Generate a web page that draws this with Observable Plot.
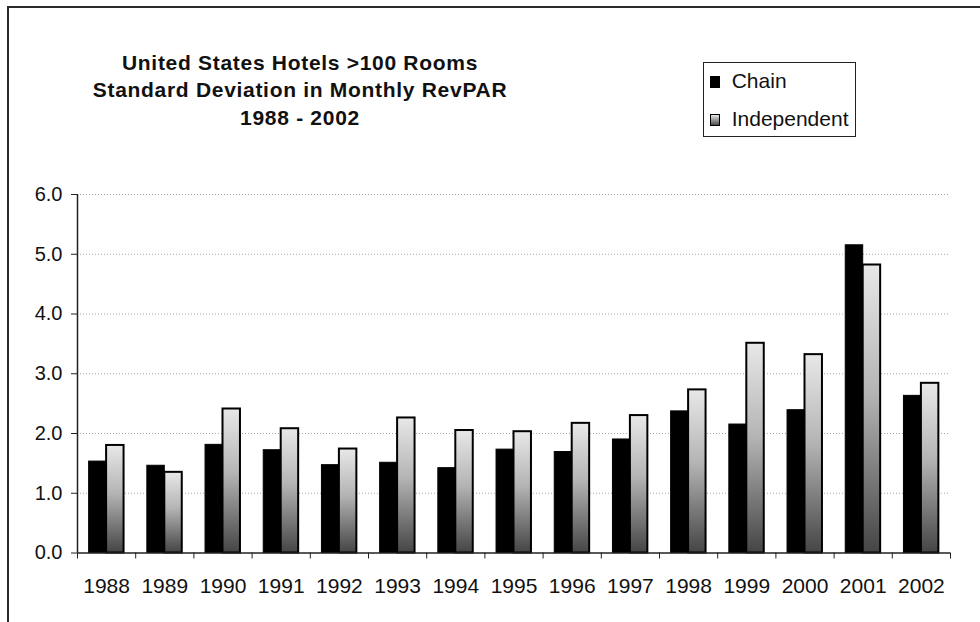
<!DOCTYPE html>
<html>
<head>
<meta charset="utf-8">
<script src="https://cdn.jsdelivr.net/npm/d3@7"></script>
<script src="https://cdn.jsdelivr.net/npm/@observablehq/plot@0.6"></script>
<style>
  html, body { margin: 0; padding: 0; background: #fff; overflow: hidden; }
  #wrap { position: relative; width: 980px; height: 622px; font-family: "Liberation Sans", Arial, sans-serif; color: #111; }
  #frame { position: absolute; left: 7px; top: 6px; width: 990px; height: 640px;
           border-left: 2px solid #2a2a2a; border-top: 2px solid #2a2a2a; }
  #title { position: absolute; left: 50px; width: 500px; top: 48.6px; text-align: center;
           font-weight: bold; font-size: 21px; line-height: 27.5px; letter-spacing: 0.7px; }
  #legend { position: absolute; left: 702.7px; top: 61.7px; width: 151px; height: 73.5px;
            border: 1.5px solid #222; }
  .lab { position: absolute; left: 731.7px; font-size: 21px; line-height: 21px; white-space: nowrap; }
  .sw { position: absolute; left: 710px; width: 10px; height: 12px; border: 1px solid #000; box-sizing: border-box; }
  #chart { position: absolute; left: 0; top: 0; }
</style>
</head>
<body>
<div id="wrap">
  <div id="frame"></div>
  <div id="chart"></div>
  <div id="title">United States Hotels &gt;100 Rooms<br>Standard Deviation in Monthly RevPAR<br>1988 - 2002</div>
  <div id="legend"></div>
  <div class="sw" style="top:76px;background:#000"></div>
  <div class="lab" style="top:69.9px">Chain</div>
  <div class="sw" style="top:113.5px;background:linear-gradient(#e8e8e8,#4a4a4a)"></div>
  <div class="lab" style="top:107.6px">Independent</div>
</div>
<script>
// Standard deviation in monthly RevPAR, hotels with more than 100 rooms
const years = [1988, 1989, 1990, 1991, 1992, 1993, 1994, 1995, 1996, 1997, 1998, 1999, 2000, 2001, 2002];
const chain = [1.53, 1.46, 1.81, 1.72, 1.47, 1.51, 1.42, 1.73, 1.69, 1.90, 2.37, 2.15, 2.39, 5.15, 2.63];
const independent = [1.80, 1.35, 2.41, 2.08, 1.74, 2.26, 2.05, 2.03, 2.17, 2.30, 2.73, 3.51, 3.32, 4.82, 2.84];
const yTicks = [0, 1, 2, 3, 4, 5, 6];
const xDomain = [1987.5, 2002.5];
const barHalf = 0.3; // each bar takes this share of a year slot

const rows = years.map((year, i) => ({year, chain: chain[i], independent: independent[i]}));
const boundaries = d3.range(xDomain[0], xDomain[1] + 0.01, 1);

const plot = Plot.plot({
  width: 980,
  height: 622,
  marginLeft: 77,
  marginRight: 30,
  marginTop: 194,
  marginBottom: 69.5,
  style: {fontFamily: "'Liberation Sans', Arial, sans-serif", fontSize: "20px", color: "#111", background: "transparent", overflow: "visible"},
  x: {type: "linear", domain: xDomain},
  y: {domain: [0, 6]},
  marks: [
    Plot.gridY(yTicks.filter(t => t > 0), {stroke: "#a8a8a8", strokeOpacity: 1, strokeDasharray: "1,2", strokeWidth: 1}),
    Plot.rectY(rows, {x1: d => d.year - barHalf, x2: d => d.year, y1: 0, y2: "chain", fill: "#000", stroke: "#000", strokeWidth: 1}),
    Plot.rectY(rows, {x1: d => d.year, x2: d => d.year + barHalf, y1: 0, y2: "independent", fill: "url(#indepGrad)", stroke: "#000", strokeWidth: 2}),
    Plot.ruleX([xDomain[0]], {stroke: "#222", strokeWidth: 1.5}),
    Plot.ruleY([0], {stroke: "#222", strokeWidth: 1.5}),
    Plot.axisY({ticks: yTicks, tickFormat: d3.format(".1f"), tickSize: 6, tickPadding: 9, label: null, fontSize: 20, stroke: "#222"}),
    Plot.axisX({ticks: boundaries, tickFormat: () => "", tickSize: 6, label: null, stroke: "#222"}),
    Plot.axisX({ticks: years, tickFormat: d => String(d), tickSize: 0, tickPadding: 25, label: null, fontSize: 21})
  ]
});

// vertical light-to-dark fill used by the Independent bars
const defs = d3.select(plot).insert("defs", ":first-child");
const grad = defs.append("linearGradient").attr("id", "indepGrad")
  .attr("x1", 0).attr("y1", 0).attr("x2", 0).attr("y2", 1);
grad.append("stop").attr("offset", "0%").attr("stop-color", "#e8e8e8");
grad.append("stop").attr("offset", "45%").attr("stop-color", "#b4b4b4");
grad.append("stop").attr("offset", "100%").attr("stop-color", "#454545");

document.getElementById("chart").appendChild(plot);
</script>
</body>
</html>
